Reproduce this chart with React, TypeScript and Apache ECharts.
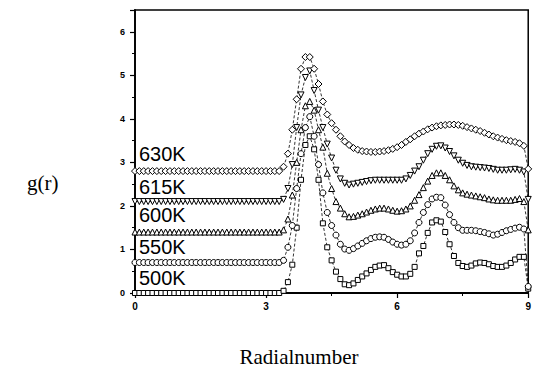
import React, { useEffect, useRef } from "react";
import * as echarts from "echarts";

// radial distance samples (r)
const rValues = [
  0, 0.1, 0.2, 0.3, 0.4, 0.5, 0.6, 0.7, 0.8, 0.9,
  1.0, 1.1, 1.2, 1.3, 1.4, 1.5, 1.6, 1.7, 1.8, 1.9,
  2.0, 2.1, 2.2, 2.3, 2.4, 2.5, 2.6, 2.7, 2.8, 2.9,
  3.0, 3.1, 3.2, 3.3, 3.4, 3.5, 3.6, 3.7, 3.8, 3.9,
  4.0, 4.1, 4.2, 4.3, 4.4, 4.5, 4.6, 4.7, 4.8, 4.9,
  5.0, 5.1, 5.2, 5.3, 5.4, 5.5, 5.6, 5.7, 5.8, 5.9,
  6.0, 6.1, 6.2, 6.3, 6.4, 6.5, 6.6, 6.7, 6.8, 6.9,
  7.0, 7.1, 7.2, 7.3, 7.4, 7.5, 7.6, 7.7, 7.8, 7.9,
  8.0, 8.1, 8.2, 8.3, 8.4, 8.5, 8.6, 8.7, 8.8, 8.9,
  9.0,
];

const g500K = [
  0, 0, 0, 0, 0, 0, 0, 0, 0, 0,
  0, 0, 0, 0, 0, 0, 0, 0, 0, 0,
  0, 0, 0, 0, 0, 0, 0, 0, 0, 0,
  0, 0, 0, 0, 0.05, 0.25, 0.65, 1.5, 2.6, 3.4,
  3.6, 3.3, 2.6, 1.6, 1.05, 0.75, 0.49, 0.32, 0.2, 0.18,
  0.22, 0.3, 0.38, 0.45, 0.53, 0.6, 0.63, 0.64, 0.57, 0.48,
  0.42, 0.38, 0.38, 0.44, 0.6, 0.91, 1.08, 1.38, 1.62, 1.67,
  1.64, 1.4, 1.12, 0.85, 0.69, 0.62, 0.6, 0.63, 0.68, 0.7,
  0.69, 0.66, 0.62, 0.6, 0.6, 0.63, 0.69, 0.77, 0.83, 0.83,
  0.1,
];

const g550K = [
  0.7, 0.7, 0.7, 0.7, 0.7, 0.7, 0.7, 0.7, 0.7, 0.7,
  0.7, 0.7, 0.7, 0.7, 0.7, 0.7, 0.7, 0.7, 0.7, 0.7,
  0.7, 0.7, 0.7, 0.7, 0.7, 0.7, 0.7, 0.7, 0.7, 0.7,
  0.7, 0.7, 0.7, 0.7, 0.75, 1.05, 1.55, 2.4, 3.2, 3.8,
  4.05, 3.6, 2.95, 2.3, 1.85, 1.55, 1.33, 1.12, 1.01, 0.98,
  1.02, 1.08, 1.14, 1.2, 1.25, 1.28, 1.29, 1.28, 1.23, 1.17,
  1.12, 1.1, 1.12, 1.2, 1.38, 1.62, 1.85, 2.03, 2.16, 2.2,
  2.19, 2.02, 1.8, 1.62, 1.5, 1.44, 1.44, 1.44, 1.43, 1.41,
  1.39, 1.36, 1.33, 1.35, 1.39, 1.43, 1.46, 1.49, 1.51, 1.47,
  0.15,
];

const g600K = [
  1.4, 1.4, 1.4, 1.4, 1.4, 1.4, 1.4, 1.4, 1.4, 1.4,
  1.4, 1.4, 1.4, 1.4, 1.4, 1.4, 1.4, 1.4, 1.4, 1.4,
  1.4, 1.4, 1.4, 1.4, 1.4, 1.4, 1.4, 1.4, 1.4, 1.4,
  1.4, 1.4, 1.4, 1.4, 1.45, 1.7, 2.25, 3.0, 3.75, 4.3,
  4.4, 4.2, 3.75, 3.35, 2.75, 2.4, 2.1, 1.95, 1.82, 1.75,
  1.76, 1.79, 1.82, 1.86, 1.9, 1.93, 1.95, 1.95, 1.93, 1.9,
  1.88, 1.89, 1.93, 2.0, 2.13, 2.26, 2.42, 2.57, 2.7, 2.76,
  2.76, 2.7, 2.6, 2.46, 2.37, 2.3, 2.27, 2.25, 2.23, 2.21,
  2.19, 2.16, 2.14, 2.13, 2.13, 2.13, 2.13, 2.15, 2.17, 2.1,
  1.45,
];

const g615K = [
  2.1, 2.1, 2.1, 2.1, 2.1, 2.1, 2.1, 2.1, 2.1, 2.1,
  2.1, 2.1, 2.1, 2.1, 2.1, 2.1, 2.1, 2.1, 2.1, 2.1,
  2.1, 2.1, 2.1, 2.1, 2.1, 2.1, 2.1, 2.1, 2.1, 2.1,
  2.1, 2.1, 2.1, 2.1, 2.15, 2.4, 2.95, 3.8, 4.55, 4.95,
  5.1, 4.65, 4.2, 3.8, 3.42, 3.1, 2.82, 2.62, 2.52, 2.48,
  2.5, 2.52, 2.54, 2.56, 2.58, 2.59, 2.59, 2.59, 2.59, 2.59,
  2.59, 2.59, 2.62, 2.7, 2.8, 2.9, 3.05, 3.2, 3.3, 3.37,
  3.38, 3.33, 3.25, 3.15, 3.05, 2.98, 2.93, 2.9, 2.89, 2.88,
  2.87, 2.86, 2.84, 2.82, 2.82, 2.82, 2.83, 2.84, 2.82, 2.78,
  2.15,
];

const g630K = [
  2.8, 2.8, 2.8, 2.8, 2.8, 2.8, 2.8, 2.8, 2.8, 2.8,
  2.8, 2.8, 2.8, 2.8, 2.8, 2.8, 2.8, 2.8, 2.8, 2.8,
  2.8, 2.8, 2.8, 2.8, 2.8, 2.8, 2.8, 2.8, 2.8, 2.8,
  2.8, 2.8, 2.8, 2.8, 2.9, 3.2, 3.75, 4.45, 5.15, 5.42,
  5.42, 5.15, 4.8, 4.4, 4.1, 3.9, 3.75, 3.6, 3.48, 3.4,
  3.33, 3.29, 3.26, 3.25, 3.24, 3.24, 3.25, 3.26, 3.28, 3.31,
  3.35, 3.4, 3.47, 3.53, 3.6, 3.66, 3.71, 3.76, 3.8, 3.83,
  3.85, 3.86, 3.87, 3.87, 3.86, 3.84, 3.81, 3.78, 3.75, 3.72,
  3.68, 3.64, 3.6, 3.57, 3.54, 3.51, 3.49, 3.47, 3.44, 3.38,
  2.85,
];

const seriesNames = ["500K", "550K", "600K", "615K", "630K"];
const seriesValues = [g500K, g550K, g600K, g615K, g630K];
const seriesSymbols = ["rect", "circle", "triangle", "triangle", "diamond"];
const seriesRotate = [0, 0, 0, 180, 0];
const seriesSizes = [5, 6, 6, 6, 7];
const labelCenters = [278, 247, 215, 187, 154];

const xTicks = [0, 3, 6, 9];
const yTicks = [0, 1, 2, 3, 4, 5, 6];

export default function App() {
  const ref = useRef<HTMLDivElement>(null);

  useEffect(() => {
    if (!ref.current) return;
    const chart = echarts.init(ref.current, null, { renderer: "svg" });

    const series = seriesNames.map((name, i) => ({
      name,
      type: "line",
      data: rValues.map((r, j) => [r, seriesValues[i][j]]),
      symbol: seriesSymbols[i],
      symbolRotate: seriesRotate[i],
      symbolSize: seriesSizes[i],
      showAllSymbol: true,
      clip: false,
      lineStyle: { color: "#000", width: 0.8, type: [3, 2] },
      itemStyle: { color: "#fff", borderColor: "#000", borderWidth: 1 },
      z: 2,
    }));

    const labelGraphics = seriesNames.map((name, i) => ({
      type: "text",
      x: 139,
      y: labelCenters[i],
      style: {
        text: name,
        font: "20px 'Liberation Sans', Arial, sans-serif",
        fill: "#000",
        textAlign: "left",
        textVerticalAlign: "middle",
      },
      z: 10,
    }));

    chart.setOption({
      animation: false,
      backgroundColor: "#fff",
      grid: {
        left: 135,
        right: 1,
        top: 10,
        bottom: 76,
        show: true,
        borderColor: "#000",
        borderWidth: 1.5,
        backgroundColor: "transparent",
      },
      xAxis: {
        type: "value",
        min: xTicks[0],
        max: xTicks[xTicks.length - 1],
        interval: 3,
        axisLine: { show: true, lineStyle: { color: "#000", width: 1.8 } },
        axisTick: { show: true, length: 5, lineStyle: { color: "#000", width: 1.2 } },
        minorTick: { show: true, splitNumber: 2, length: 3, lineStyle: { color: "#000", width: 1 } },
        splitLine: { show: false },
        axisLabel: {
          margin: 8,
          color: "#000",
          fontSize: 10,
          fontWeight: "bold",
          fontFamily: "'Liberation Sans', Arial, sans-serif",
        },
      },
      yAxis: {
        type: "value",
        min: yTicks[0],
        max: 6.5,
        interval: 1,
        axisLine: { show: true, lineStyle: { color: "#000", width: 1.8 } },
        axisTick: { show: true, length: 5, lineStyle: { color: "#000", width: 1.2 } },
        minorTick: { show: true, splitNumber: 2, length: 3, lineStyle: { color: "#000", width: 1 } },
        splitLine: { show: false },
        axisLabel: {
          margin: 10,
          color: "#000",
          fontSize: 9,
          fontWeight: "bold",
          fontFamily: "'Liberation Sans', Arial, sans-serif",
          formatter: (v: number) => (yTicks.indexOf(v) >= 0 ? String(v) : ""),
        },
      },
      graphic: [
        ...labelGraphics,
        {
          type: "text",
          x: 27,
          y: 183,
          style: {
            text: "g(r)",
            font: "21px 'Liberation Serif', 'Times New Roman', serif",
            fill: "#000",
            textAlign: "left",
            textVerticalAlign: "middle",
          },
        },
        {
          type: "text",
          x: 299,
          y: 357,
          style: {
            text: "Radialnumber",
            font: "21px 'Liberation Serif', 'Times New Roman', serif",
            fill: "#000",
            textAlign: "center",
            textVerticalAlign: "middle",
          },
        },
      ],
      series,
    });

    return () => chart.dispose();
  }, []);

  return <div ref={ref} style={{ width: 534, height: 369, position: "fixed", left: 0, top: 0 }} />;
}
